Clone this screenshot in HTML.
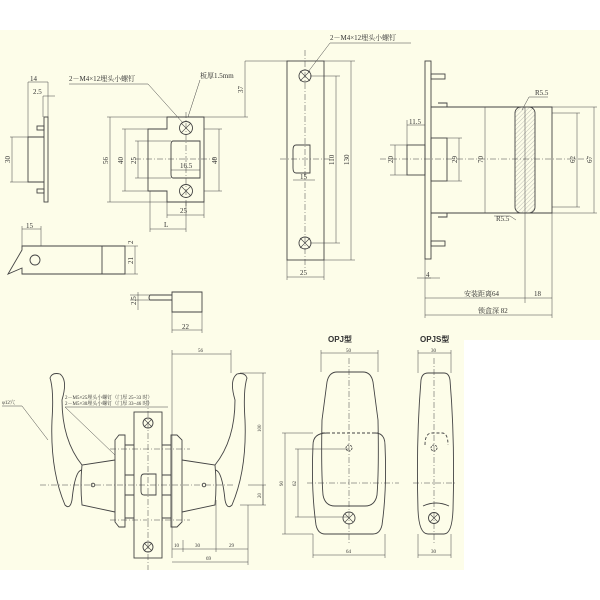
<!DOCTYPE html>
<html><head><meta charset="utf-8"><style>
body{margin:0;background:#fff}
svg{display:block}
text{font-family:"Liberation Serif","Noto Serif CJK SC",serif;fill:#333}
</style></head><body>
<svg width="600" height="600" viewBox="0 0 600 600" xmlns="http://www.w3.org/2000/svg">
<defs>
<pattern id="h" width="3" height="3" patternUnits="userSpaceOnUse" patternTransform="rotate(45)"><line x1="0" y1="0" x2="0" y2="3" stroke="#999" stroke-width="0.6"/></pattern>
</defs>
<rect x="0" y="30" width="600" height="540" fill="#fdfde9"/>
<rect x="464" y="340" width="136" height="230" fill="#fff"/>
<g fill="none" stroke="#444" stroke-width="0.9">
<!-- left top part -->
<rect x="44" y="117" width="4" height="85"/>
<path d="M44 137H28V182H44"/>
<rect x="37" y="126" width="7" height="4"/><rect x="37" y="189" width="7" height="4"/>
<path d="M28 82V137M48 82V117M28 82H48M43 96V117M43 96H55" stroke-width="0.5"/>
<path d="M12 137V182M10 137H28M10 182H28" stroke-width="0.5"/>
<!-- strike -->
<path d="M167 117H204V202H167V191H148V129H167Z"/>
<path d="M200 141H173Q171 141 171 145V174Q171 178 173 178H200Z"/>
<circle cx="186" cy="128" r="6.5"/><circle cx="186" cy="191" r="6.5"/>
<path d="M181 123L191 133M191 123L181 133M181 186L191 196M191 186L181 196" stroke-width="0.6"/>
<g stroke-width="0.5">
<path d="M110 117V202M107 117H167M107 202H167M125 129V191M122 129H148M122 191H148M138 141V178M135 141H171M135 178H171M219 129V191M204 129H222M204 191H222M171 170H200M167 215H204M167 202V218M204 202V218M150 229H186M150 191V232M186 202V232M204 117H248M245 61V117M245 61H290"/>
<path d="M69 84H148L183 123M200 80L188 117"/>
<path d="M135 159H215M186 112V208" stroke-dasharray="6 2 1 2"/>
</g>
<!-- latch -->
<path d="M22 246H125V274H22V268L8 274L22 250Z"/>
<path d="M102 246V274"/>
<circle cx="35" cy="260" r="5"/>
<path d="M22 229H41M22 226V246M41 226V246M135 246V274M125 246H138M125 274H138" stroke-width="0.5"/>
<!-- small part -->
<path d="M150 295H172V312H202V292H172V295M150 295Q148 298 150 300H172"/>
<path d="M138 292V310M130 295H150M130 300H150M172 330H202M172 312V333M202 312V333" stroke-width="0.5"/>
<!-- faceplate -->
<rect x="287" y="61" width="37" height="199"/>
<path d="M310 145H296Q293 145 293 150V168Q293 173 296 173H310Z"/>
<circle cx="305" cy="76" r="6"/><circle cx="305" cy="243" r="6"/>
<path d="M300 71L310 81M310 71L300 81M300 238L310 248M310 238L300 248" stroke-width="0.6"/>
<g stroke-width="0.5">
<path d="M336 76V243M310 76H340M310 243H340M351 61V260M324 61H355M324 260H355M293 180H315M287 277H324M287 260V280M324 260V280M330 43H411M330 43L308 72"/>
<path d="M280 159H330M305 50V270" stroke-dasharray="6 2 1 2"/>
</g>
<!-- side view -->
<rect x="425" y="61" width="6" height="198"/>
<path d="M431 107H552V213H431M447 107V103H438M447 213V217H438"/>
<rect x="431" y="138" width="16" height="43"/>
<rect x="407" y="145" width="18" height="30"/>
<rect x="431" y="74" width="14" height="5"/><rect x="431" y="241" width="14" height="5"/>
<rect x="515" y="107" width="20" height="106" rx="6" fill="url(#h)"/>
<path d="M525 107V213" stroke-width="0.5"/>
<g stroke-width="0.5">
<path d="M407 125H425M407 120V145M395 145V175M390 145H407M390 175H407M459 138V181M447 138H462M447 181H462M485 107V213M577 113V207M552 113H580M552 207H580M594 107V213M552 107H597M552 213H597"/>
<path d="M425 278H431M417 278H440M425 259V318M525 213V303M552 213V318M425 298H525M525 298H552M425 315H552"/>
<path d="M529 97H548M529 97L522 110M516 220L510 216H494"/>
<path d="M380 159H590" stroke-dasharray="6 2 1 2"/>
</g>
<!-- lever assembly -->
<rect x="134" y="412" width="28" height="146"/>
<path d="M156 474H144Q141 474 141 478V491Q141 495 144 495H156Z"/>
<circle cx="148" cy="423" r="5"/><circle cx="148" cy="547" r="5"/>
<path d="M144 419L152 427M152 419L144 427M144 543L152 551M152 543L144 551" stroke-width="0.6"/>
<path d="M125 435H119L115 440V522L119 527H125Z"/><path d="M171 435H177L182 440V522L177 527H171Z"/>
<path d="M125 445H134M125 518H134M162 445H171M162 518H171M125 475H134M125 495H134M162 475H171M162 495H171"/>
<path d="M115 460L82 465Q80 485 82 505L115 512"/><path d="M182 460L215 465Q217 485 215 505L182 512"/>
<path d="M82 470Q75 470 72 500Q70 510 65 505Q50 470 52 420Q54 390 50 378Q52 372 60 374Q68 380 62 400Q62 440 82 465"/>
<path d="M215 470Q222 470 225 500Q227 510 232 505Q247 470 245 420Q243 390 247 378Q245 372 237 374Q229 380 235 400Q235 440 215 465"/>
<circle cx="93" cy="485" r="1.8"/><circle cx="204" cy="485" r="1.8"/>
<g stroke-width="0.5">
<path d="M172 354H231M172 350V558M231 350V373M263 373V505M240 373H266M240 505H266M263 485V505M248 485H266M172 549H248M183 540V552M216 500V552M248 505V565M172 562H248"/>
<path d="M2 406H22L48 440M65 407H168M65 407L115 455"/>
<path d="M40 485H235M148 400V570M110 449H190M110 520H190" stroke-dasharray="6 2 1 2"/>
</g>
<!-- OPJ -->
<path d="M327 433Q313 433 313 445Q311 490 316 525Q318 534 325 534H373Q380 534 382 525Q387 490 385 445Q385 433 375 433"/>
<path d="M337 372H363Q371 372 373 382L378 420Q379 470 377 495Q375 506 365 506H335Q325 506 323 495Q321 470 322 420L327 382Q329 372 337 372Z"/>
<path d="M322 433H378" stroke-dasharray="3 2"/>
<circle cx="349" cy="448" r="3" stroke-dasharray="2 1"/>
<circle cx="349" cy="518" r="6"/><path d="M345 514L353 522M353 514L345 522" stroke-width="0.6"/>
<g stroke-width="0.5">
<path d="M321 353H378M321 350V372M378 350V372M313 555H385M313 534V558M385 534V558M285 433V534M282 433H313M282 534H313M298 449V517M295 449H349M295 517H349"/>
<path d="M349 358V545M307 483H399" stroke-dasharray="6 2 1 2"/>
</g>
<!-- OPJS -->
<path d="M428 373H444Q449 373 450 380Q455 440 453 510Q452 534 444 534H428Q419 534 418 510Q416 440 421 380Q422 373 428 373Z"/>
<path d="M423 506Q436 500 449 506" />
<path d="M425 445Q425 433 432 433H442Q448 433 448 445" stroke-dasharray="3 2"/>
<circle cx="434" cy="448" r="3" stroke-dasharray="2 1"/>
<circle cx="434" cy="518" r="5.5"/><path d="M430 514L438 522M438 514L430 522" stroke-width="0.6"/>
<g stroke-width="0.5">
<path d="M418 353H451M418 350V373M451 350V373M418 555H451M418 534V558M451 534V558"/>
<path d="M434 358V545M413 483H456" stroke-dasharray="6 2 1 2"/>
</g>
</g>
<g font-size="7">
<text x="30" y="81">14</text><text x="33" y="94">2.5</text>
<text x="10" y="163" transform="rotate(-90 10 163)">30</text>
<text x="69" y="81">2－M4×12埋头小螺钉</text>
<text x="200" y="78">板厚1.5mm</text>
<text x="108" y="164" transform="rotate(-90 108 164)">56</text>
<text x="123" y="164" transform="rotate(-90 123 164)">40</text>
<text x="136" y="164" transform="rotate(-90 136 164)">25</text>
<text x="217" y="164" transform="rotate(-90 217 164)">40</text>
<text x="180" y="168">16.5</text><text x="180" y="213">25</text><text x="164" y="227">L</text>
<text x="243" y="93" transform="rotate(-90 243 93)">37</text>
<text x="26" y="228">15</text>
<text x="133" y="264" transform="rotate(-90 133 264)">21</text>
<text x="133" y="244" transform="rotate(-90 133 244)">2</text>
<text x="136" y="305" transform="rotate(-90 136 305)">2.5</text>
<text x="182" y="329">22</text>
<text x="330" y="40">2－M4×12埋头小螺钉</text>
<text x="334" y="165" transform="rotate(-90 334 165)">110</text>
<text x="349" y="165" transform="rotate(-90 349 165)">130</text>
<text x="300" y="179">15</text><text x="300" y="275">25</text>
<text x="409" y="124">11.5</text>
<text x="393" y="163" transform="rotate(-90 393 163)">20</text>
<text x="457" y="163" transform="rotate(-90 457 163)">29</text>
<text x="483" y="163" transform="rotate(-90 483 163)">70</text>
<text x="575" y="163" transform="rotate(-90 575 163)">62</text>
<text x="592" y="163" transform="rotate(-90 592 163)">67</text>
<text x="535" y="95">R5.5</text><text x="496" y="221">R5.5</text>
<text x="426" y="277">4</text>
<text x="464" y="296">安装距离64</text><text x="534" y="296">18</text>
<text x="478" y="313">锁盒深 82</text>
</g>
<g font-size="5">
<text x="2" y="404">φ12穴</text>
<text x="65" y="399">2－M5×25埋头小螺钉（门厚 25~33 时）</text>
<text x="65" y="405">2－M5×30埋头小螺钉（门厚 33~46 时）</text>
<text x="198" y="352">56</text>
<text x="261" y="432" transform="rotate(-90 261 432)">100</text>
<text x="261" y="498" transform="rotate(-90 261 498)">20</text>
<text x="174" y="547">10</text><text x="195" y="547">30</text><text x="229" y="547">29</text>
<text x="206" y="560">69</text>
<text x="346" y="352">50</text><text x="346" y="553">64</text>
<text x="283" y="486" transform="rotate(-90 283 486)">90</text>
<text x="296" y="486" transform="rotate(-90 296 486)">62</text>
<text x="431" y="352">30</text><text x="431" y="553">30</text>
</g>
<g font-size="8" font-weight="bold">
<text x="328" y="342" style="font-family:'Liberation Sans','Noto Sans CJK SC',sans-serif">OPJ型</text>
<text x="420" y="342" style="font-family:'Liberation Sans','Noto Sans CJK SC',sans-serif">OPJS型</text>
</g>
</svg>
</body></html>
